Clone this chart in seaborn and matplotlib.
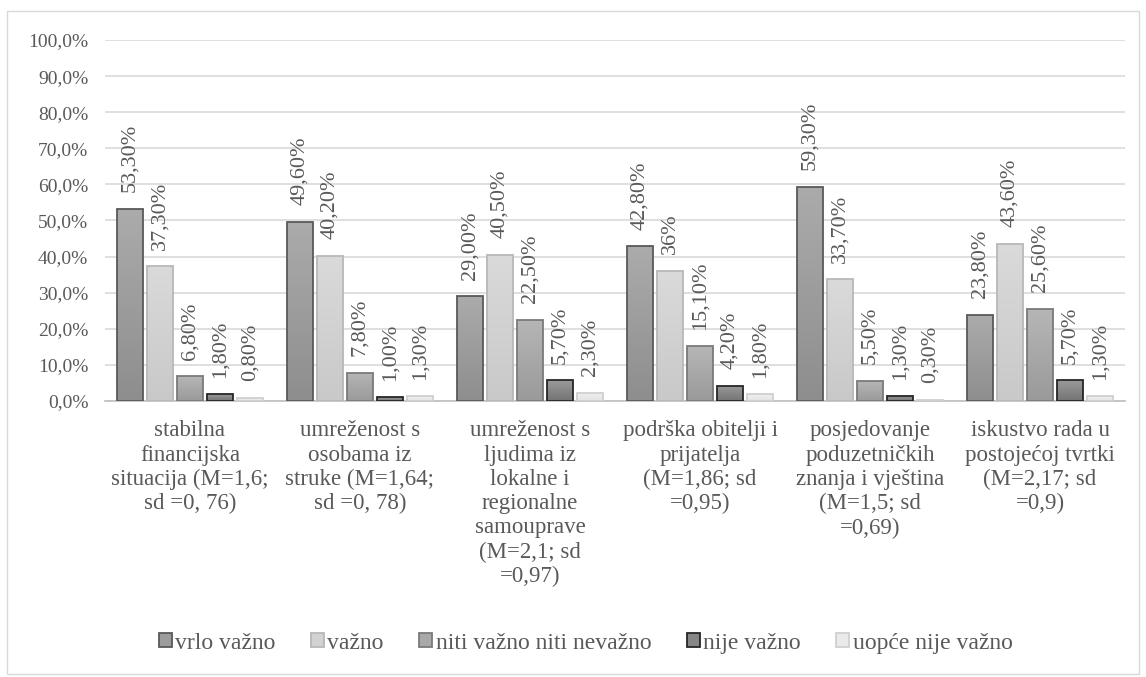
import numpy as np
import pandas as pd
import matplotlib
matplotlib.use('agg')
import matplotlib.pyplot as plt
from matplotlib.ticker import FuncFormatter, MultipleLocator
from matplotlib.patches import Rectangle
from matplotlib.colors import LinearSegmentedColormap
import seaborn as sns

# Data (percent of respondents)
categories = [
    "stabilna\nfinancijska\nsituacija (M=1,6;\nsd =0, 76)",
    "umreženost s\nosobama iz\nstruke (M=1,64;\nsd =0, 78)",
    "umreženost s\nljudima iz\nlokalne i\nregionalne\nsamouprave\n(M=2,1; sd\n=0,97)",
    "podrška obitelji i\nprijatelja\n(M=1,86; sd\n=0,95)",
    "posjedovanje\npoduzetničkih\nznanja i vještina\n(M=1,5; sd\n=0,69)",
    "iskustvo rada u\npostojećoj tvrtki\n(M=2,17; sd\n=0,9)",
]
series = ["vrlo važno", "važno", "niti važno niti nevažno", "nije važno", "uopće nije važno"]

vrlo_vazno = [53.3, 49.6, 29.0, 42.8, 59.3, 23.8]
vazno = [37.3, 40.2, 40.5, 36.0, 33.7, 43.6]
niti = [6.8, 7.8, 22.5, 15.1, 5.5, 25.6]
nije_vazno = [1.8, 1.0, 5.7, 4.2, 1.3, 5.7]
uopce_nije = [0.8, 1.3, 2.3, 1.8, 0.3, 1.3]

labels_vrlo = ["53,30%", "49,60%", "29,00%", "42,80%", "59,30%", "23,80%"]
labels_vazno = ["37,30%", "40,20%", "40,50%", "36%", "33,70%", "43,60%"]
labels_niti = ["6,80%", "7,80%", "22,50%", "15,10%", "5,50%", "25,60%"]
labels_nije = ["1,80%", "1,00%", "5,70%", "4,20%", "1,30%", "5,70%"]
labels_uopce = ["0,80%", "1,30%", "2,30%", "1,80%", "0,30%", "1,30%"]

values = [vrlo_vazno, vazno, niti, nije_vazno, uopce_nije]
bar_labels = [labels_vrlo, labels_vazno, labels_niti, labels_nije, labels_uopce]

df = pd.DataFrame({
    "kategorija": np.tile(categories, len(series)),
    "odgovor": np.repeat(series, len(categories)),
    "udio": np.concatenate(values),
})

face_colors = ["#9c9c9c", "#d2d2d2", "#a8a8a8", "#868686", "#eaeaea"]
top_colors = ["#ababab", "#dadada", "#b6b6b6", "#9a9a9a", "#f0f0f0"]
bottom_colors = ["#8e8e8e", "#c9c9c9", "#9a9a9a", "#747474", "#e3e3e3"]
edge_colors = ["#595959", "#b8b8b8", "#7a7a7a", "#262626", "#d0d0d0"]

sns.set_theme(style="white")
plt.rcParams['font.family'] = ['Liberation Serif', 'DejaVu Serif']
text_color = "#595959"

fig = plt.figure(figsize=(11.46, 6.77), dpi=100)
ax = fig.add_axes([0.0916, 0.4077, 0.8901, 0.5332])

sns.barplot(data=df, x="kategorija", y="udio", hue="odgovor", order=categories,
            hue_order=series, palette=dict(zip(series, face_colors)),
            width=0.88, gap=0.15, ax=ax, legend=True, zorder=3)

ax.set_ylim(0, 100)
ax.set_xlim(-0.5, len(categories) - 0.5)

# gradient fill inside each bar, edges kept on the patch
grad = np.linspace(1, 0, 64).reshape(-1, 1)
for cont, ec, tc, bc, labs in zip(ax.containers, edge_colors, top_colors,
                                  bottom_colors, bar_labels):
    cmap = LinearSegmentedColormap.from_list("g", [bc, tc])
    for p in cont:
        x0, y0 = p.get_x(), p.get_y()
        w, h = p.get_width(), p.get_height()
        im = ax.imshow(grad, extent=[x0, x0 + w, y0, y0 + h], cmap=cmap,
                       aspect='auto', origin='upper', zorder=2.9,
                       interpolation='bilinear')
        im.set_clip_path(p)
        p.set_facecolor('none')
        p.set_edgecolor(ec)
        p.set_linewidth(1.3)
    ax.bar_label(cont, labels=labs, rotation=90, padding=12, fontsize=16,
                 color=text_color)

ax.set_ylim(0, 100)
ax.set_xlim(-0.5, len(categories) - 0.5)
ax.set_aspect('auto')
ax.yaxis.set_major_locator(MultipleLocator(10))
ax.yaxis.set_major_formatter(FuncFormatter(lambda v, p: f"{v:.1f}%".replace(".", ",")))
ax.grid(axis='y', color="#d9d9d9", linewidth=1.2, zorder=0)
ax.set_axisbelow(True)
for s in ["top", "right", "left"]:
    ax.spines[s].set_visible(False)
ax.spines["bottom"].set_color("#bfbfbf")
ax.spines["bottom"].set_linewidth(1.2)
ax.tick_params(axis='x', length=0, labelsize=16.5, colors=text_color, pad=14)
ax.tick_params(axis='y', length=0, labelsize=14, colors=text_color, pad=12)
for t in ax.get_xticklabels():
    t.set_linespacing(1.2)
ax.set_xlabel("")
ax.set_ylabel("")

handles, labs = ax.get_legend_handles_labels()
ax.get_legend().remove()
for h, ec in zip(handles, edge_colors):
    h.set_edgecolor(ec)
    h.set_linewidth(1.3)
fig.legend(handles, labs, loc="center", bbox_to_anchor=(0.511, 0.05), ncol=5,
           frameon=False, fontsize=17, labelcolor=text_color, handlelength=0.55,
           handleheight=0.55, handletextpad=0.15, columnspacing=1.5)

# light frame around chart area
fig.patches.append(Rectangle((7 / 1146, 0.005), 1132 / 1146, 1 - 11 / 677 - 0.005,
                             transform=fig.transFigure, fill=False,
                             edgecolor="#d9d9d9", linewidth=1.0))

fig.savefig("out.png", dpi=100)
